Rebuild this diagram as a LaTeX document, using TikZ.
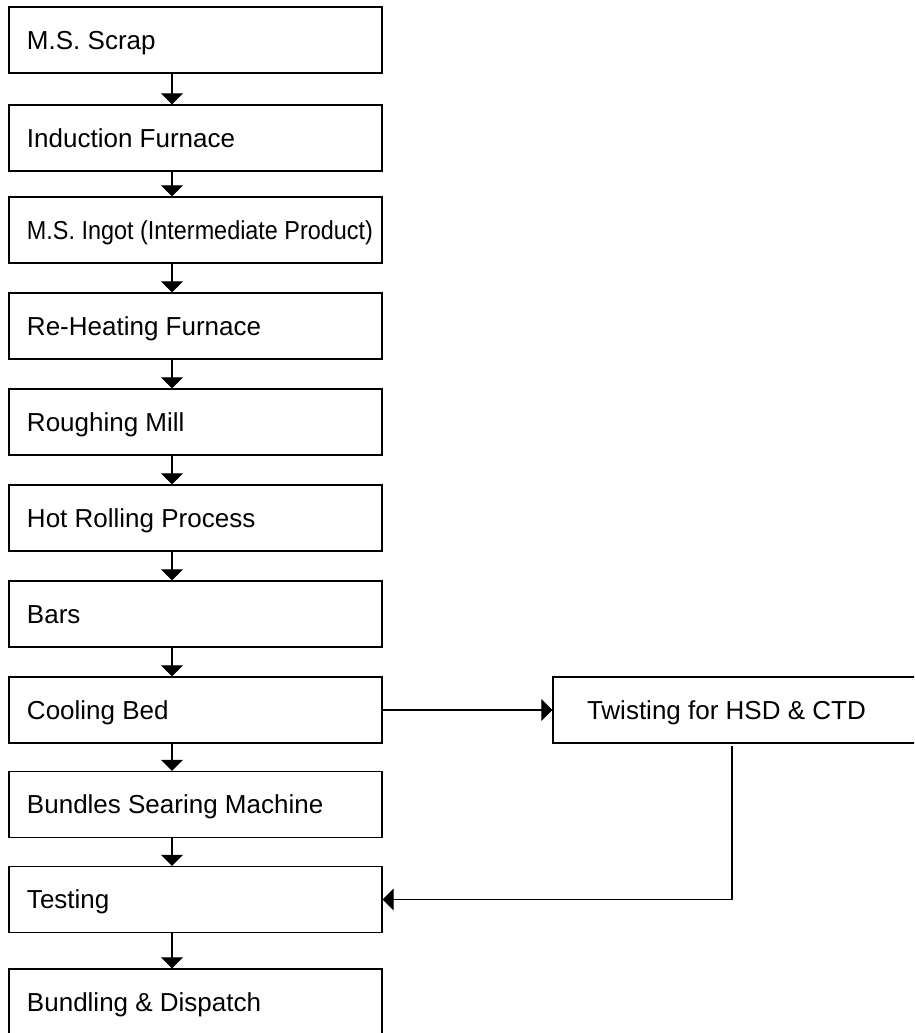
\documentclass[tikz,border=0pt]{standalone}
\usepackage{fontspec}
\usepackage{graphicx}
\setmainfont{Liberation Sans}
\usetikzlibrary{arrows.meta}
\tikzset{
  stepbox/.style={draw=black, line width=1.3pt, inner xsep=18pt, inner ysep=0pt,
    minimum height=66pt, text height=18.6pt, text depth=0pt,
    font=\fontsize{26}{31}\selectfont},
  sidebox/.style={stepbox, inner xsep=34pt},
  arr/.style={line width=1.2pt, -{Triangle[length=11pt,width=22pt]}},
  plain/.style={line width=1.2pt}
}
\begin{document}
\begin{tikzpicture}[x=1pt,y=-1pt]
\clip (0,0) rectangle (914,1033);
\fill[white] (0,0) rectangle (914,1033);
\node[stepbox] (n1)  at (195.5,40)  {\makebox[337pt][l]{M.S. Scrap}};
\node[stepbox] (n2)  at (195.5,138) {\makebox[337pt][l]{Induction Furnace}};
\node[stepbox] (n3)  at (195.5,230) {\makebox[337pt][l]{\scalebox{0.9}[1]{M.S. Ingot (Intermediate Product)}}};
\node[stepbox] (n4)  at (195.5,326) {\makebox[337pt][l]{Re-Heating Furnace}};
\node[stepbox] (n5)  at (195.5,422) {\makebox[337pt][l]{Roughing Mill}};
\node[stepbox] (n6)  at (195.5,518) {\makebox[337pt][l]{Hot Rolling Process}};
\node[stepbox] (n7)  at (195.5,614) {\makebox[337pt][l]{Bars}};
\node[stepbox] (n8)  at (195.5,710) {\makebox[337pt][l]{Cooling Bed}};
\node[stepbox] (n9)  at (195.5,804.5) {\makebox[337pt][l]{Bundles Searing Machine}};
\node[stepbox] (n10) at (195.5,899.5) {\makebox[337pt][l]{Testing}};
\node[stepbox] (n11) at (195.5,1002) {\makebox[337pt][l]{Bundling \& Dispatch}};
\node[sidebox] (tw) at (741.5,710) {\makebox[309pt][l]{Twisting for HSD \& CTD}};
\coordinate (ax) at (172,0);
\foreach \a/\b in {n1/n2,n2/n3,n3/n4,n4/n5,n5/n6,n6/n7,n7/n8,n8/n9,n9/n10,n10/n11}
  \draw[arr] (\a.south -| ax) -- (\b.north -| ax);
\draw[arr] (n8.east) -- (tw.west);
\coordinate (fbtop) at (732,746);
\coordinate (fb) at (732,899.5);
\draw[plain] (fbtop) -- (fb);
\draw[arr] (fb) -- (n10.east);
\end{tikzpicture}
\end{document}
